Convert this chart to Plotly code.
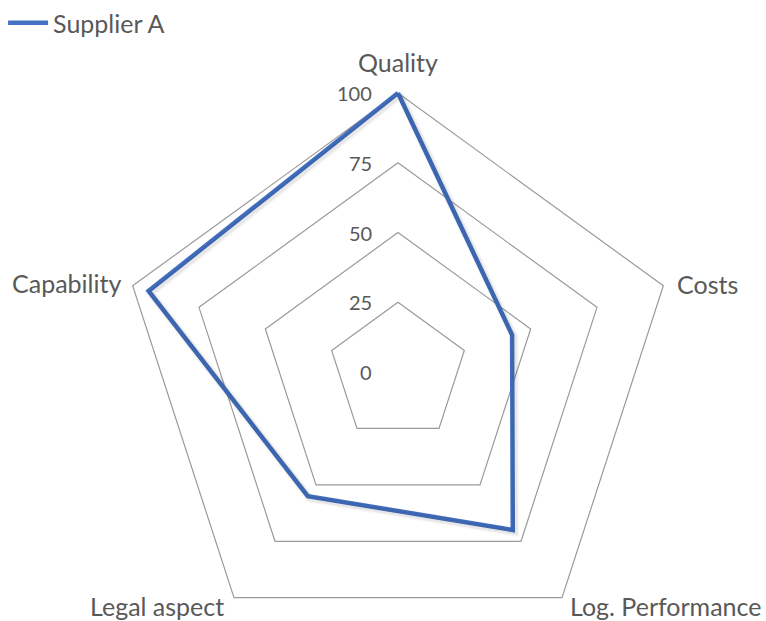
import math
import plotly.graph_objects as go

# ---- data ----
categories = ["Quality", "Costs", "Log. Performance", "Legal aspect", "Capability"]
supplier_a = [100, 43, 70, 55, 94]
series_name = "Supplier A"
tick_values = [0, 25, 50, 75, 100]
tick_labels = ["0", "25", "50", "75", "100"]

# ---- geometry / style ----
W, H = 766, 621
CX, CY = 398, 372          # centre of the radar in pixels
PX_PER_UNIT = 2.79         # pixels per value unit
FONT = "Lato"
TEXT_COLOR = "#595959"
GRID_COLOR = "#9A9A9A"
LINE_COLOR = "#4472C4"

n = len(categories)
# clockwise from the top
angles = [math.pi / 2 - 2 * math.pi * i / n for i in range(n)]


def polar_to_xy(values):
    xs = [v * math.cos(a) for v, a in zip(values, angles)]
    ys = [v * math.sin(a) for v, a in zip(values, angles)]
    return xs + xs[:1], ys + ys[:1]


x_range = [-CX / PX_PER_UNIT, (W - CX) / PX_PER_UNIT]
y_range = [-(H - CY) / PX_PER_UNIT, CY / PX_PER_UNIT]

fig = go.Figure()

# pentagon gridlines for each tick value above zero
for t in tick_values[1:]:
    gx, gy = polar_to_xy([t] * n)
    fig.add_trace(go.Scatter(
        x=gx, y=gy, mode="lines",
        line=dict(color=GRID_COLOR, width=1.2),
        hoverinfo="skip", showlegend=False,
    ))

sx, sy = polar_to_xy(supplier_a)

# faint drop shadow under the series line (on offset overlay axes)
for w, op in [(9, 0.035), (6, 0.06)]:
    fig.add_trace(go.Scatter(
        x=sx, y=sy, mode="lines", xaxis="x2", yaxis="y2",
        line=dict(color=f"rgba(0,0,0,{op})", width=w),
        hoverinfo="skip", showlegend=False,
    ))

fig.add_trace(go.Scatter(
    x=sx, y=sy, mode="lines", name=series_name,
    line=dict(color=LINE_COLOR, width=4.5),
    customdata=categories + categories[:1],
    hovertemplate="%{customdata}: %{text}<extra>" + series_name + "</extra>",
    text=[str(v) for v in supplier_a + supplier_a[:1]],
))

# category labels placed just outside each outer vertex
label_style = {
    "Quality": dict(xanchor="center", yanchor="bottom", xshift=0, yshift=14),
    "Costs": dict(xanchor="left", yanchor="middle", xshift=12, yshift=2),
    "Log. Performance": dict(xanchor="left", yanchor="middle", xshift=6, yshift=-8),
    "Legal aspect": dict(xanchor="right", yanchor="middle", xshift=-8, yshift=-8),
    "Capability": dict(xanchor="right", yanchor="middle", xshift=-10, yshift=3),
}
ox, oy = polar_to_xy([100] * n)
annotations = []
for i, cat in enumerate(categories):
    annotations.append(dict(
        x=ox[i], y=oy[i], xref="x", yref="y", text=cat, showarrow=False,
        font=dict(family=FONT, size=25, color=TEXT_COLOR),
        **label_style[cat],
    ))

# radial tick labels along the upward axis
for v, lab in zip(tick_values, tick_labels):
    annotations.append(dict(
        x=0, y=v, xref="x", yref="y", text=lab, showarrow=False,
        xanchor="right", yanchor="middle", xshift=-24, yshift=0,
        font=dict(family=FONT, size=20, color=TEXT_COLOR),
    ))

shift = 2 / PX_PER_UNIT
axis_common = dict(visible=False, showgrid=False, zeroline=False, fixedrange=True)
fig.update_layout(
    width=W, height=H,
    margin=dict(l=0, r=0, t=0, b=0),
    paper_bgcolor="white", plot_bgcolor="white",
    xaxis=dict(range=x_range, **axis_common),
    yaxis=dict(range=y_range, **axis_common),
    xaxis2=dict(range=[x_range[0] - shift, x_range[1] - shift], overlaying="x", **axis_common),
    yaxis2=dict(range=[y_range[0] + shift, y_range[1] + shift], overlaying="y", **axis_common),
    annotations=annotations,
    showlegend=True,
    legend=dict(
        x=0.004, y=1, xanchor="left", yanchor="top",
        font=dict(family=FONT, size=25, color=TEXT_COLOR),
        bgcolor="rgba(0,0,0,0)", itemwidth=40,
    ),
)

fig.write_html("out.html")
